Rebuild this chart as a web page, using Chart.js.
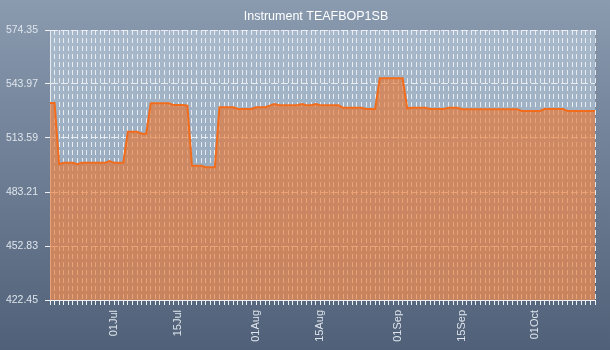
<!DOCTYPE html>
<html>
<head>
<meta charset="utf-8">
<title>Instrument TEAFBOP1SB</title>
<script src="https://cdn.jsdelivr.net/npm/chart.js@4.4.1/dist/chart.umd.min.js"></script>
<style>
  html, body { margin: 0; padding: 0; background: #6b7d93; }
  #wrap { width: 610px; height: 350px; }
</style>
</head>
<body>
<div id="wrap"><canvas id="priceChart" width="610" height="350"></canvas></div>
<script>
// daily closes, one per calendar day starting 17 Jun
const startDay = Date.UTC(2013, 5, 17);
const closes = [
  533.3, 533.3, 498.8, 499.6, 499.6, 499.6, 498.9, 499.6, 499.6, 499.6,
  499.6, 499.6, 499.6, 500.6, 499.6, 499.6, 499.6, 517.1, 517.1, 517.1,
  516.0, 516.0, 533.1, 533.1, 533.1, 533.1, 533.1, 532.1, 532.1, 532.1,
  531.8, 498.0, 498.0, 498.0, 497.2, 497.2, 497.2, 530.9, 530.9, 530.9,
  530.9, 529.9, 529.9, 529.9, 529.9, 530.9, 530.9, 530.9, 531.8, 532.7,
  532.0, 532.0, 532.0, 532.0, 532.0, 532.7, 532.0, 532.0, 532.7, 532.0,
  532.0, 532.0, 532.0, 532.0, 530.6, 530.6, 530.6, 530.6, 530.6, 529.9,
  529.9, 529.9, 547.2, 547.2, 547.2, 547.2, 547.2, 547.2, 530.3, 530.6,
  530.6, 530.6, 530.6, 529.9, 529.9, 529.9, 529.9, 530.6, 530.6, 530.6,
  529.8, 529.8, 529.8, 529.8, 529.8, 529.8, 529.8, 529.8, 529.8, 529.8,
  529.8, 529.8, 529.8, 528.8, 528.8, 528.8, 528.8, 528.8, 529.9, 529.9,
  529.9, 529.9, 529.9, 528.8, 528.8, 528.8, 528.8, 528.8, 528.8, 528.8
];
const yTicks = [422.45, 452.83, 483.21, 513.59, 543.97, 574.35];
const xTickLabels = ["01Jul", "15Jul", "01Aug", "15Aug", "01Sep", "15Sep", "01Oct"];
const titleText = "Instrument TEAFBOP1SB";

const MONTHS = ["Jan","Feb","Mar","Apr","May","Jun","Jul","Aug","Sep","Oct","Nov","Dec"];
function dayLabel(i) {
  const d = new Date(startDay + i * 86400000);
  return String(d.getUTCDate()).padStart(2, "0") + MONTHS[d.getUTCMonth()];
}
const days = closes.map((_, i) => dayLabel(i));

const textColor = "#dfe5ec";
const gridColor = "rgba(240,242,245,0.9)";

// page + plot backgrounds
const backdrop = {
  id: "backdrop",
  beforeDraw(c) {
    const { ctx, width, height, chartArea: a } = c;
    ctx.save();
    let g = ctx.createLinearGradient(0, 0, 0, height);
    g.addColorStop(0, "#8a9bb0");
    g.addColorStop(1, "#4f6078");
    ctx.fillStyle = g;
    ctx.fillRect(0, 0, width, height);
    g = ctx.createLinearGradient(0, a.top, 0, a.bottom);
    g.addColorStop(0, "#a8b9cb");
    g.addColorStop(1, "#8da1b6");
    ctx.fillStyle = g;
    ctx.fillRect(a.left, a.top, a.right - a.left, a.bottom - a.top);
    ctx.restore();
  }
};

// heading sits a little right of the page centre
const heading = {
  id: "heading",
  afterDraw(c) {
    const ctx = c.ctx;
    ctx.save();
    ctx.font = "12.5px 'Liberation Sans', Arial, sans-serif";
    ctx.fillStyle = "#ffffff";
    ctx.textAlign = "center";
    ctx.textBaseline = "middle";
    ctx.fillText(titleText, c.width / 2 + 11, 17);
    ctx.restore();
  }
};

Chart.defaults.font.family = "'Liberation Sans', Arial, sans-serif";

new Chart(document.getElementById("priceChart"), {
  type: "line",
  data: {
    labels: days,
    datasets: [{
      data: closes,
      borderColor: "#f26c1c",
      borderWidth: 2,
      backgroundColor: "rgba(236,112,36,0.6)",
      fill: "start",
      pointRadius: 0,
      tension: 0
    }]
  },
  options: {
    responsive: false,
    animation: false,
    devicePixelRatio: 1,
    layout: { padding: { top: 30, right: 15, left: 0, bottom: 0 } },
    plugins: {
      legend: { display: false },
      tooltip: { enabled: false },
      title: { display: false }
    },
    scales: {
      x: {
        offset: false,
        grid: { color: gridColor, lineWidth: 1, tickLength: 5, tickColor: "#eef1f4", offset: false },
        border: { display: true, color: "#eef1f4", width: 1, dash: [5, 3] },
        ticks: {
          autoSkip: false,
          maxRotation: 90,
          minRotation: 90,
          padding: 5,
          color: textColor,
          font: { size: 11 },
          callback(v) {
            const l = this.getLabelForValue(v);
            return xTickLabels.includes(l) ? l : "";
          }
        },
        afterFit(s) {
          s.height = 50;
          s.paddingLeft = 0;
          s.paddingRight = 0;
        }
      },
      y: {
        min: yTicks[0],
        max: yTicks[yTicks.length - 1],
        grid: { color: gridColor, lineWidth: 1, tickLength: 5, tickColor: "#eef1f4" },
        border: { display: true, color: "#e4e9ee", width: 1, dash: [7, 3] },
        ticks: {
          padding: 7,
          color: textColor,
          font: { size: 10.5 },
          callback: (v) => Number(v).toFixed(2)
        },
        afterBuildTicks(s) { s.ticks = yTicks.map(v => ({ value: v })); },
        afterFit(s) { s.width = 50; }
      }
    }
  },
  plugins: [backdrop, heading]
});
</script>
</body>
</html>
